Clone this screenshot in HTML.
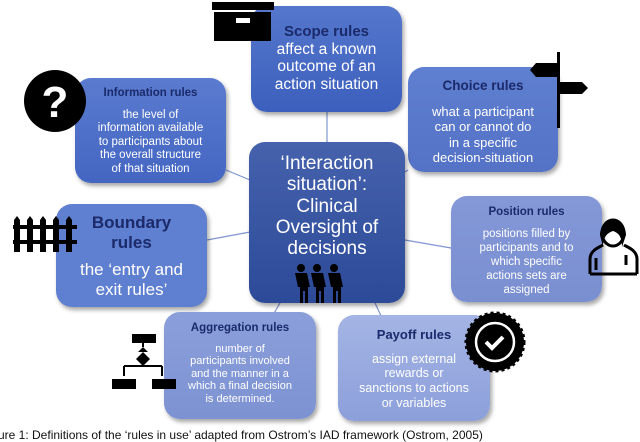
<!DOCTYPE html>
<html><head><meta charset="utf-8"><style>
body{margin:0;width:640px;height:442px;background:#fff;position:relative;overflow:hidden;font-family:"Liberation Sans",sans-serif}
.b{position:absolute;border-radius:16px;color:#fff;text-align:center;box-shadow:2px 3px 4px rgba(0,0,0,.35);box-sizing:border-box;white-space:nowrap}
.t{color:#1a2a6a;font-weight:bold}
svg{position:absolute;left:0;top:0}
</style></head><body>
<svg width="640" height="442">
<g stroke="#7f95d0" stroke-width="1.2">
<line x1="327" y1="112" x2="327" y2="142"/><line x1="226" y1="170" x2="250" y2="180"/>
<line x1="405" y1="172" x2="408" y2="170"/><line x1="207" y1="240" x2="250" y2="232"/>
<line x1="405" y1="240" x2="451" y2="248"/><line x1="280" y1="303" x2="273" y2="315"/>
<line x1="375" y1="303" x2="382" y2="318"/></g></svg>
<div class="b" style="left:251px;top:6px;width:151px;height:106px;background:linear-gradient(#5577cc,#3c5fbd);padding-top:17px;font-size:15.5px;line-height:17.5px"><span class="t" style="font-size:15px">Scope rules</span><br>affect a known<br>outcome of an<br>action situation</div>
<div class="b" style="left:408px;top:67px;width:150px;height:105px;background:linear-gradient(#5f7fd0,#5472c6);padding-top:11px;font-size:13px;line-height:15.6px"><span class="t" style="font-size:13.5px">Choice rules</span><div style="height:10px"></div>what a participant<br>can or cannot do<br>in a specific<br>decision-situation</div>
<div class="b" style="left:75px;top:78px;width:151px;height:105px;background:linear-gradient(#5a7bcf,#4466c2);padding-top:9px;font-size:11.5px;line-height:13.6px"><span class="t" style="font-size:11.5px">Information rules</span><div style="height:8px"></div>the level of<br>information available<br>to participants about<br>the overall structure<br>of that situation</div>
<div class="b" style="left:249px;top:142px;width:156px;height:161px;background:linear-gradient(#4662ad,#2c4a98);padding-top:11px;font-size:19px;line-height:21.3px">‘Interaction<br>situation’:<br>Clinical<br>Oversight of<br>decisions</div>
<div class="b" style="left:56px;top:204px;width:151px;height:103px;background:#5f7fd0;padding-top:9px;font-size:17px;line-height:19.5px"><span class="t" style="font-size:17px">Boundary<br>rules</span><div style="height:8px"></div>the ‘entry and<br>exit rules’</div>
<div class="b" style="left:451px;top:196px;width:151px;height:106px;background:linear-gradient(#8498d8,#7a8fd0);padding-top:9px;font-size:11.5px;line-height:14px"><span class="t" style="font-size:11.5px">Position rules</span><div style="height:8px"></div>positions filled by<br>participants and to<br>which specific<br>actions sets are<br>assigned</div>
<div class="b" style="left:164px;top:312px;width:152px;height:107px;background:linear-gradient(#8a9fda,#7d92d2);padding-top:10px;font-size:11px;line-height:12.6px"><span class="t" style="font-size:11.5px">Aggregation rules</span><div style="height:8px"></div>number of<br>participants involved<br>and the manner in a<br>which a final decision<br>is determined.</div>
<div class="b" style="left:338px;top:315px;width:152px;height:106px;background:linear-gradient(#a4b4e4,#8c9fda);padding-top:13px;font-size:12.5px;line-height:14.7px"><span class="t" style="font-size:13px">Payoff rules</span><div style="height:9px"></div>assign external<br>rewards or<br>sanctions to actions<br>or variables</div>
<svg width="640" height="442">
<rect x="212" y="2" width="62" height="8"/><rect x="214" y="12" width="57" height="29"/><rect x="236" y="18" width="14" height="5" fill="#fff"/>
<circle cx="55" cy="101" r="31"/><text x="55" y="117" font-size="44" font-weight="bold" fill="#fff" text-anchor="middle" font-family="Liberation Sans">?</text>
<g fill="#000"><rect x="13" y="225" width="64" height="4"/><rect x="13" y="240" width="64" height="4"/>
<path d="M14 220l3-4 3 4v32h-6zM27 220l3-4 3 4v32h-6zM40 220l3-4 3 4v32h-6zM53 220l3-4 3 4v32h-6zM66 220l3-4 3 4v32h-6z"/></g>
<rect x="557" y="52" width="3" height="76"/><path d="M530 70l6-7h21v14h-21z"/><path d="M560 82h22l6 6-6 6h-22z"/>
<g fill="none" stroke="#000" stroke-width="3"><path d="M590 274v-15c0-9 10-12 13-14M637 274v-15c0-9-10-12-13-14M590 274h47"/><ellipse cx="613" cy="233" rx="11" ry="13"/><path d="M596 258v12M626 255v10"/></g><path d="M600 235c0-18 26-18 26 0l-4 12c0-10-3-14-9-16-6 2-10 6-10 16z"/>
<g fill="#000"><rect x="132" y="334" width="24" height="9"/><rect x="112" y="379" width="24" height="10"/><rect x="152" y="379" width="24" height="10"/><path d="M143 347l-5 5h10z M143 352l7 7-7 7-7-7z"/></g>
<path d="M143 343v4M124 366h38M124 366v10M162 366v10" stroke="#000" stroke-width="2" fill="none"/>
<circle cx="495" cy="342" r="29" fill="#000" stroke="#000" stroke-width="3" stroke-dasharray="3 3"/><circle cx="495" cy="342" r="19" fill="none" stroke="#fff" stroke-width="2.5"/><path d="M486 342l6 6 11-11" stroke="#fff" stroke-width="4" fill="none"/>
<g fill="#000"><circle cx="301" cy="268" r="4"/><circle cx="317" cy="268" r="4"/><circle cx="334" cy="268" r="4"/>
<path d="M295 273h12l3 14h-2v16h-3v-12h-2v12h-3v-16h-2z M311 273h12l3 14h-2v16h-3v-12h-2v12h-3v-16h-2z M328 273h12l3 14h-2v16h-3v-12h-2v12h-3v-16h-2z"/></g>
</svg>
<div style="position:absolute;left:-2px;top:428px;font-size:12px;white-space:nowrap;color:#111">ure 1: Definitions of the ‘rules in use’ adapted from Ostrom’s IAD framework (Ostrom, 2005)</div>
</body></html>
